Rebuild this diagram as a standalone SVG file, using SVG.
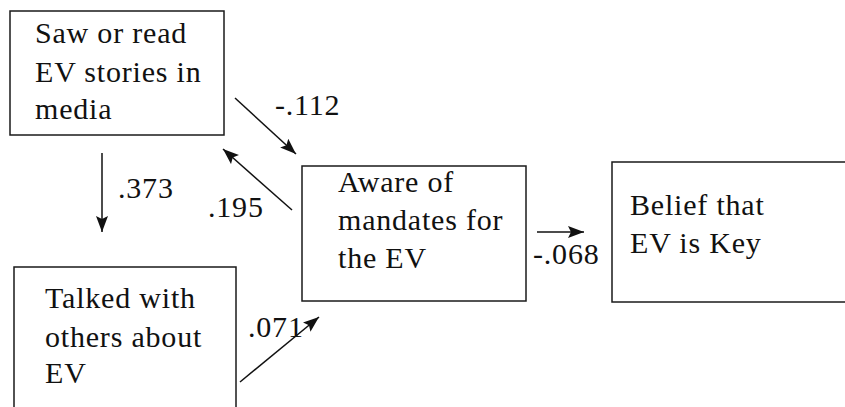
<svg xmlns="http://www.w3.org/2000/svg" width="845" height="407" viewBox="0 0 845 407">
<style>
.box{fill:#fff;stroke:#1a1a1a;stroke-width:1.5}
text{font-family:"Liberation Serif","Times New Roman",serif;font-size:30px;fill:#111;letter-spacing:0.8px}
.edge{stroke:#111;stroke-width:1.5;fill:none;marker-end:url(#ah)}
</style>
<defs>
<marker id="ah" markerUnits="userSpaceOnUse" markerWidth="18" markerHeight="14" refX="16" refY="6" orient="auto">
<path d="M0,0 L16,6 L0,12 L3,6 z" fill="#111"/>
</marker>
</defs>
<rect width="845" height="407" fill="#fff"/>
<g id="media">
<rect class="box" x="10" y="11" width="214" height="124"/>
<text x="35" y="43">Saw or read</text>
<text x="35" y="82">EV stories in</text>
<text x="35" y="119">media</text>
</g>
<g id="talked">
<rect class="box" x="14" y="267" width="222" height="160"/>
<text x="45" y="308">Talked with</text>
<text x="45" y="347">others about</text>
<text x="45" y="383">EV</text>
</g>
<g id="aware">
<rect class="box" x="302" y="166" width="224" height="135"/>
<text x="338" y="192">Aware of</text>
<text x="338" y="230">mandates for</text>
<text x="338" y="268">the EV</text>
</g>
<g id="belief">
<rect class="box" x="612" y="162" width="250" height="140"/>
<text x="630" y="215">Belief that</text>
<text x="630" y="253">EV is Key</text>
</g>
<g id="connectors">
<line class="edge" x1="235" y1="98" x2="296" y2="154"/>
<line class="edge" x1="292" y1="210" x2="223" y2="149"/>
<line class="edge" x1="102" y1="153" x2="102" y2="232"/>
<line class="edge" x1="240" y1="382" x2="319" y2="317"/>
<line class="edge" x1="537" y1="232" x2="584" y2="232"/>
<text x="275" y="115">-.112</text>
<text x="208" y="217">.195</text>
<text x="118" y="198">.373</text>
<text x="248" y="337">.071</text>
<text x="533" y="264">-.068</text>
</g>
</svg>
